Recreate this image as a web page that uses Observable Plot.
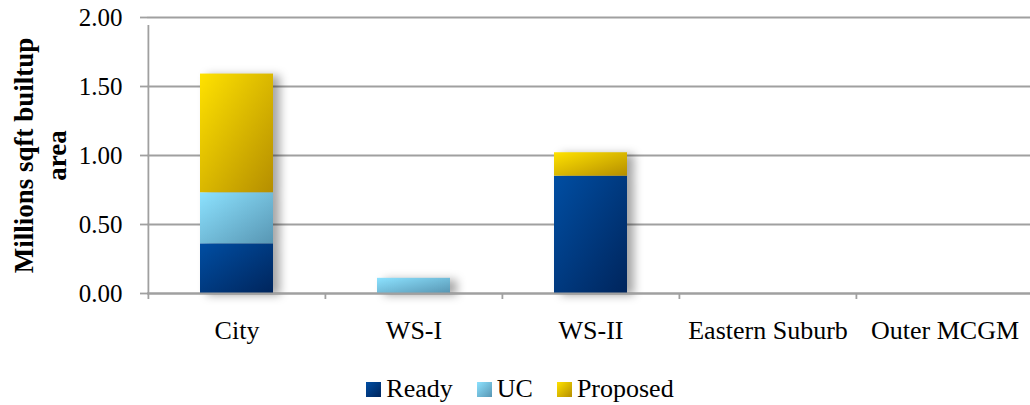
<!DOCTYPE html>
<html>
<head>
<meta charset="utf-8">
<script src="https://cdn.jsdelivr.net/npm/d3@7"></script>
<script src="https://cdn.jsdelivr.net/npm/@observablehq/plot@0.6"></script>
<style>
  html, body { margin: 0; padding: 0; background: #fff; }
  body { width: 1030px; height: 405px; overflow: hidden; font-family: "Liberation Serif", "DejaVu Serif", serif; }
  #legend { display: flex; justify-content: center; align-items: center; gap: 24px; font-family: "Liberation Serif", serif; font-size: 26px; color: #000; margin-left: 10px; margin-top: 19px; }
  #legend .item { display: flex; align-items: center; gap: 5px; }
  #legend .sw { width: 15px; height: 15px; display: inline-block; }
</style>
</head>
<body>
<div id="chart"></div>
<div id="legend"></div>
<script>
const categories = ["City", "WS-I", "WS-II", "Eastern Suburb", "Outer MCGM"];
const seriesNames = ["Ready", "UC", "Proposed"];
const ready = [0.36, 0, 0.85, 0, 0];
const uc = [0.37, 0.11, 0, 0, 0];
const proposed = [0.86, 0, 0.17, 0, 0];
const yTicks = [0, 0.5, 1, 1.5, 2];

const gradients = {
  Ready: ["#004ea3", "#00255c"],
  UC: ["#8ce2ff", "#5896b3"],
  Proposed: ["#ffe200", "#b58e00"]
};
const gradIds = { Ready: "gReady", UC: "gUC", Proposed: "gProposed" };

const rows = [];
categories.forEach((c, i) => {
  rows.push({ category: c, series: "Ready", value: ready[i] });
  rows.push({ category: c, series: "UC", value: uc[i] });
  rows.push({ category: c, series: "Proposed", value: proposed[i] });
});

const W = 1030, H = 355;
const xRange = [147, 1033];
const step = (xRange[1] - xRange[0]) / categories.length;

const chart = Plot.plot({
  width: W,
  height: H,
  marginTop: 17,
  marginBottom: 62,
  marginLeft: 147,
  marginRight: 0,
  style: { fontFamily: "'Liberation Serif', 'DejaVu Serif', serif", fontSize: "25px", color: "#000", background: "#fff", overflow: "visible" },
  x: { domain: categories, range: xRange, paddingInner: 0.59, paddingOuter: 0.295, label: null },
  y: { domain: [0, 2], label: null },
  color: { domain: seriesNames, range: seriesNames.map(s => `url(#${gradIds[s]})`) },
  marks: [
    Plot.gridY(yTicks, { stroke: "#a0a0a0", strokeWidth: 1.8, strokeOpacity: 1 }),
    Plot.barY(rows, Plot.stackY({ x: "category", y: "value", fill: "series", order: seriesNames })),
    Plot.ruleY([0], { stroke: "#a0a0a0", strokeWidth: 1.8 }),
    Plot.ruleX([0], { x: () => categories[0], dx: -step / 2, y1: 0, y2: 2, stroke: "#a0a0a0", strokeWidth: 1.8, insetBottom: -8 }),
    Plot.axisY(yTicks, { tickSize: 7, tickPadding: 18, tickFormat: d3.format(".2f"), stroke: "#a0a0a0", strokeWidth: 1.8, fontSize: 25, label: null }),
    Plot.axisX({ tickSize: 0, tickPadding: 27, fontSize: 26, label: null }),
    Plot.axisX({ tickSize: 6, tickFormat: () => "", dx: -step / 2, stroke: "#a0a0a0", strokeWidth: 1.8, label: null }),
    Plot.text(["Millions sqft builtup\narea"], { frameAnchor: "left", textAnchor: "middle", rotate: -90, dx: -109, lineHeight: 1.22, fontWeight: "bold", fontSize: 27, fill: "#000" })
  ]
});

// gradients
const svg = chart;
const ns = "http://www.w3.org/2000/svg";
const defs = document.createElementNS(ns, "defs");
for (const s of seriesNames) {
  const lg = document.createElementNS(ns, "linearGradient");
  lg.setAttribute("id", gradIds[s]);
  lg.setAttribute("x1", "0"); lg.setAttribute("y1", "0");
  lg.setAttribute("x2", "1"); lg.setAttribute("y2", "1");
  const s1 = document.createElementNS(ns, "stop");
  s1.setAttribute("offset", "0"); s1.setAttribute("stop-color", gradients[s][0]);
  const s2 = document.createElementNS(ns, "stop");
  s2.setAttribute("offset", "1"); s2.setAttribute("stop-color", gradients[s][1]);
  lg.appendChild(s1); lg.appendChild(s2);
  defs.appendChild(lg);
}
svg.insertBefore(defs, svg.firstChild);
const barG = svg.querySelector('g[aria-label="bar"]');
if (barG) barG.style.filter = "drop-shadow(7px 2px 5px rgba(0,0,0,0.35))";

document.getElementById("chart").appendChild(chart);

const legend = document.getElementById("legend");
for (const s of seriesNames) {
  const item = document.createElement("div");
  item.className = "item";
  const sw = document.createElement("span");
  sw.className = "sw";
  sw.style.background = `linear-gradient(135deg, ${gradients[s][0]}, ${gradients[s][1]})`;
  const t = document.createElement("span");
  t.textContent = s;
  item.appendChild(sw); item.appendChild(t);
  legend.appendChild(item);
}
</script>
</body>
</html>
